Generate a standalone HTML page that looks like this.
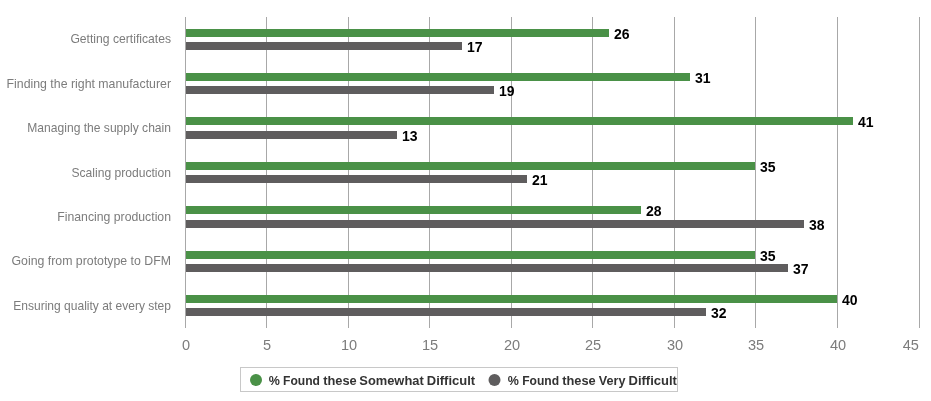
<!DOCTYPE html><html><head><meta charset="utf-8"><title>Chart</title><style>html,body{margin:0;padding:0;background:#fff}svg{display:block;will-change:transform}text{font-family:"Liberation Sans",sans-serif}</style></head><body>
<svg width="931" height="401" viewBox="0 0 931 401">
<rect width="931" height="401" fill="#fff"/>
<path d="M185.5 17V328" stroke="#a8a8a8" stroke-width="1" fill="none"/>
<path d="M266.5 17V328" stroke="#a8a8a8" stroke-width="1" fill="none"/>
<path d="M348.5 17V328" stroke="#a8a8a8" stroke-width="1" fill="none"/>
<path d="M429.5 17V328" stroke="#a8a8a8" stroke-width="1" fill="none"/>
<path d="M511.5 17V328" stroke="#a8a8a8" stroke-width="1" fill="none"/>
<path d="M592.5 17V328" stroke="#a8a8a8" stroke-width="1" fill="none"/>
<path d="M674.5 17V328" stroke="#a8a8a8" stroke-width="1" fill="none"/>
<path d="M755.5 17V328" stroke="#a8a8a8" stroke-width="1" fill="none"/>
<path d="M837.5 17V328" stroke="#a8a8a8" stroke-width="1" fill="none"/>
<path d="M919.5 17V328" stroke="#a8a8a8" stroke-width="1" fill="none"/>
<rect x="186" y="29" width="423" height="8" fill="#4a9147"/>
<rect x="186" y="42" width="276" height="8" fill="#5f5d5e"/>
<text x="614" y="39" font-size="14" font-weight="bold" fill="#000">26</text>
<text x="467" y="52" font-size="14" font-weight="bold" fill="#000">17</text>
<text x="171" y="43.0" font-size="13" text-anchor="end" textLength="100.6" lengthAdjust="spacingAndGlyphs" fill="#7c7c7c">Getting certificates</text>
<rect x="186" y="73" width="504" height="8" fill="#4a9147"/>
<rect x="186" y="86" width="308" height="8" fill="#5f5d5e"/>
<text x="695" y="83" font-size="14" font-weight="bold" fill="#000">31</text>
<text x="499" y="96" font-size="14" font-weight="bold" fill="#000">19</text>
<text x="171" y="88.0" font-size="13" text-anchor="end" textLength="164.5" lengthAdjust="spacingAndGlyphs" fill="#7c7c7c">Finding the right manufacturer</text>
<rect x="186" y="117" width="667" height="8" fill="#4a9147"/>
<rect x="186" y="131" width="211" height="8" fill="#5f5d5e"/>
<text x="858" y="127" font-size="14" font-weight="bold" fill="#000">41</text>
<text x="402" y="141" font-size="14" font-weight="bold" fill="#000">13</text>
<text x="171" y="132.0" font-size="13" text-anchor="end" textLength="143.7" lengthAdjust="spacingAndGlyphs" fill="#7c7c7c">Managing the supply chain</text>
<rect x="186" y="162" width="569" height="8" fill="#4a9147"/>
<rect x="186" y="175" width="341" height="8" fill="#5f5d5e"/>
<text x="760" y="172" font-size="14" font-weight="bold" fill="#000">35</text>
<text x="532" y="185" font-size="14" font-weight="bold" fill="#000">21</text>
<text x="171" y="177.0" font-size="13" text-anchor="end" textLength="99.5" lengthAdjust="spacingAndGlyphs" fill="#7c7c7c">Scaling production</text>
<rect x="186" y="206" width="455" height="8" fill="#4a9147"/>
<rect x="186" y="220" width="618" height="8" fill="#5f5d5e"/>
<text x="646" y="216" font-size="14" font-weight="bold" fill="#000">28</text>
<text x="809" y="230" font-size="14" font-weight="bold" fill="#000">38</text>
<text x="171" y="221.0" font-size="13" text-anchor="end" textLength="113.7" lengthAdjust="spacingAndGlyphs" fill="#7c7c7c">Financing production</text>
<rect x="186" y="251" width="569" height="8" fill="#4a9147"/>
<rect x="186" y="264" width="602" height="8" fill="#5f5d5e"/>
<text x="760" y="261" font-size="14" font-weight="bold" fill="#000">35</text>
<text x="793" y="274" font-size="14" font-weight="bold" fill="#000">37</text>
<text x="171" y="265.0" font-size="13" text-anchor="end" textLength="159.5" lengthAdjust="spacingAndGlyphs" fill="#7c7c7c">Going from prototype to DFM</text>
<rect x="186" y="295" width="651" height="8" fill="#4a9147"/>
<rect x="186" y="308" width="520" height="8" fill="#5f5d5e"/>
<text x="842" y="305" font-size="14" font-weight="bold" fill="#000">40</text>
<text x="711" y="318" font-size="14" font-weight="bold" fill="#000">32</text>
<text x="171" y="310.0" font-size="13" text-anchor="end" textLength="157.7" lengthAdjust="spacingAndGlyphs" fill="#7c7c7c">Ensuring quality at every step</text>
<text x="186.0" y="349.9" font-size="14" text-anchor="middle" textLength="8.1" lengthAdjust="spacingAndGlyphs" fill="#7c7c7c">0</text>
<text x="267.0" y="349.9" font-size="14" text-anchor="middle" textLength="8.1" lengthAdjust="spacingAndGlyphs" fill="#7c7c7c">5</text>
<text x="349.0" y="349.9" font-size="14" text-anchor="middle" textLength="16.2" lengthAdjust="spacingAndGlyphs" fill="#7c7c7c">10</text>
<text x="430.0" y="349.9" font-size="14" text-anchor="middle" textLength="16.2" lengthAdjust="spacingAndGlyphs" fill="#7c7c7c">15</text>
<text x="512.0" y="349.9" font-size="14" text-anchor="middle" textLength="16.2" lengthAdjust="spacingAndGlyphs" fill="#7c7c7c">20</text>
<text x="593.0" y="349.9" font-size="14" text-anchor="middle" textLength="16.2" lengthAdjust="spacingAndGlyphs" fill="#7c7c7c">25</text>
<text x="675.0" y="349.9" font-size="14" text-anchor="middle" textLength="16.2" lengthAdjust="spacingAndGlyphs" fill="#7c7c7c">30</text>
<text x="756.0" y="349.9" font-size="14" text-anchor="middle" textLength="16.2" lengthAdjust="spacingAndGlyphs" fill="#7c7c7c">35</text>
<text x="838.0" y="349.9" font-size="14" text-anchor="middle" textLength="16.2" lengthAdjust="spacingAndGlyphs" fill="#7c7c7c">40</text>
<text x="910.8" y="349.9" font-size="14" text-anchor="middle" textLength="16.2" lengthAdjust="spacingAndGlyphs" fill="#7c7c7c">45</text>
<rect x="240.5" y="367.5" width="437" height="24" fill="#fff" stroke="#c8c8c8" stroke-width="1"/>
<circle cx="256" cy="380" r="6" fill="#4a9147"/>
<text y="384.6" font-size="12" font-weight="bold" fill="#333"><tspan x="268.8" textLength="11.1" lengthAdjust="spacingAndGlyphs">%</tspan> <tspan x="283.0" textLength="36.9" lengthAdjust="spacingAndGlyphs">Found</tspan> <tspan x="323.2" textLength="33.5" lengthAdjust="spacingAndGlyphs">these</tspan> <tspan x="359.3" textLength="64.4" lengthAdjust="spacingAndGlyphs">Somewhat</tspan> <tspan x="426.8" textLength="48.3" lengthAdjust="spacingAndGlyphs">Difficult</tspan></text>
<circle cx="494.5" cy="380" r="6" fill="#5f5d5e"/>
<text y="384.6" font-size="12" font-weight="bold" fill="#333"><tspan x="507.8" textLength="11.1" lengthAdjust="spacingAndGlyphs">%</tspan> <tspan x="522.2" textLength="36.9" lengthAdjust="spacingAndGlyphs">Found</tspan> <tspan x="562.2" textLength="33.5" lengthAdjust="spacingAndGlyphs">these</tspan> <tspan x="598.8" textLength="26.6" lengthAdjust="spacingAndGlyphs">Very</tspan> <tspan x="628.5" textLength="48.4" lengthAdjust="spacingAndGlyphs">Difficult</tspan></text>
</svg></body></html>
